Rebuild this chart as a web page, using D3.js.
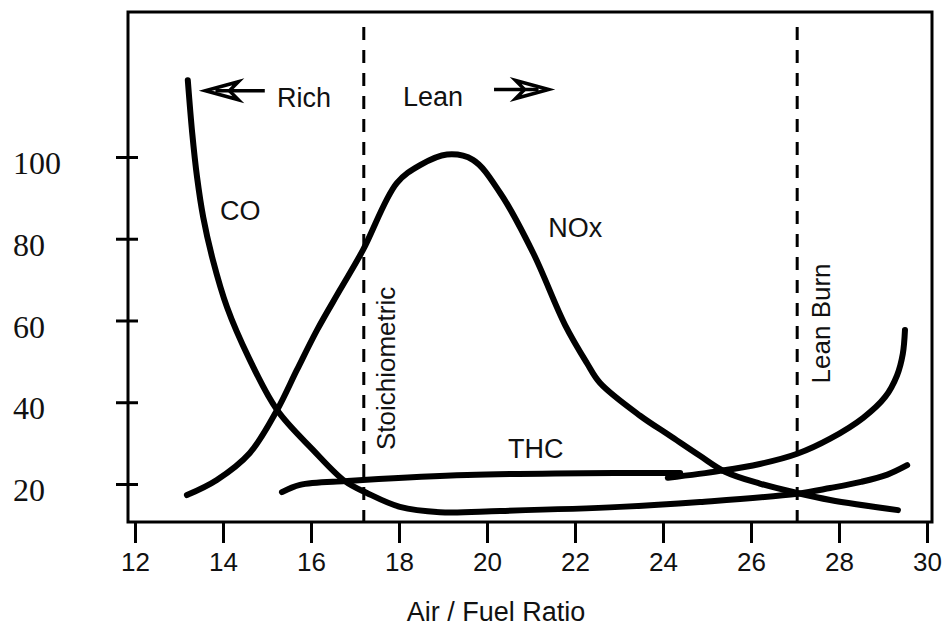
<!DOCTYPE html>
<html>
<head>
<meta charset="utf-8">
<script src="https://cdn.jsdelivr.net/npm/d3@7"></script>
<style>
  html, body { margin: 0; padding: 0; background: #fff; }
  svg { display: block; }
</style>
</head>
<body>
<svg id="chart" width="945" height="629"></svg>
<script>
// ---- data ----
const xTicks = [12, 14, 16, 18, 20, 22, 24, 26, 28, 30];
const yTicks = [20, 40, 60, 80, 100];

const co = [[13.20,118.8],[13.30,105.9],[13.41,95.1],[13.55,85.3],[13.77,74.8],[14.09,63.3],
  [14.59,50.8],[15.23,38.1],[16.05,28.3],[16.77,20.7],[17.27,17.8],[18.02,14.4],
  [18.93,13.1],[20.30,13.4],[23.02,14.4],[24.84,15.6],[27.05,17.6],[27.80,19.0],[28.50,20.5],[29.10,22.3],[29.55,24.6]];

const nox = [[13.18,17.3],[13.86,21.0],[14.61,27.6],[15.23,38.1],[15.68,47.9],[16.14,57.7],
  [16.66,67.5],[17.18,77.2],[17.95,93.6],[18.48,98.0],[19.09,100.6],[19.68,99.3],[20.30,91.2],
  [21.05,76.5],[21.77,59.0],[22.27,49.6],[22.57,44.7],[23.48,36.7],[24.16,31.8],[24.84,26.9],
  [25.41,23.0],[26.20,20.1],[27.05,17.8],[27.80,16.1],[29.34,13.6]];

const thcA = [[15.34,18.0],[15.75,19.8],[16.77,20.7],[17.18,21.0],[19.55,22.2],[23.02,22.7],[24.39,22.7]];
const thcB = [[24.11,21.5],[25.30,23.2],[26.20,24.9],[27.05,27.4],[27.80,31.1],[28.55,36.2],
  [29.05,41.3],[29.32,46.6],[29.45,51.8],[29.50,57.7]];

const markers = [17.2, 27.05];
const markerLabels = ["Stoichiometric", "Lean Burn"];
const seriesLabels = ["CO", "NOx", "THC"];

// ---- layout ----
const svg = d3.select("#chart");
const L = 128, T = 12, R = 932, B = 522;
const x = d3.scaleLinear().domain([11.841, 30.114]).range([L, R]);
const y = d3.scaleLinear().domain([10.70, 135.47]).range([B, T]);
const sans = "'Liberation Sans', Arial, sans-serif";
const serif = "'Liberation Serif', 'Times New Roman', serif";

// frame
svg.append("rect").attr("x", L).attr("y", T).attr("width", R - L).attr("height", B - T)
  .attr("fill", "none").attr("stroke", "#000").attr("stroke-width", 3);

// x axis
const gx = svg.append("g").attr("transform", `translate(0,${B})`)
  .call(d3.axisBottom(x).tickValues(xTicks).tickSize(21).tickPadding(10).tickFormat(d3.format("d")));
gx.select(".domain").remove();
gx.selectAll(".tick line").attr("stroke", "#000").attr("stroke-width", 3);
gx.selectAll(".tick text").attr("font-family", sans).attr("font-size", 26).attr("fill", "#111");

// y axis
const gy = svg.append("g").attr("transform", `translate(${L},0)`)
  .call(d3.axisLeft(y).tickValues(yTicks).tickSize(12).tickFormat(d3.format("d")));
gy.select(".domain").remove();
gy.selectAll(".tick line").attr("x1", 10).attr("stroke", "#000").attr("stroke-width", 3);
gy.selectAll(".tick text").attr("x", -(L - 13)).attr("text-anchor", "start").attr("dy", "0.52em")
  .attr("font-family", serif).attr("font-size", 32).attr("fill", "#111");

// x title
svg.append("text").attr("x", 496).attr("y", 621).attr("text-anchor", "middle")
  .attr("font-family", sans).attr("font-size", 27).attr("fill", "#111").text("Air / Fuel Ratio");

// dashed markers
markers.forEach((m, i) => {
  svg.append("line").attr("x1", x(m)).attr("x2", x(m)).attr("y1", 27).attr("y2", B)
    .attr("stroke", "#000").attr("stroke-width", 3).attr("stroke-dasharray", "13,10");
});
const mlPos = [[17.91, 28.3], [27.80, 44.6]];
markerLabels.forEach((t, i) => {
  svg.append("text").attr("transform", `translate(${x(mlPos[i][0])},${y(mlPos[i][1])}) rotate(-90)`)
    .attr("font-family", sans).attr("font-size", 26).attr("fill", "#111").text(t);
});

// curves
const line = d3.line().x(d => x(d[0])).y(d => y(d[1])).curve(d3.curveCatmullRom.alpha(0.5));
[co, nox, thcA, thcB].forEach(s => {
  svg.append("path").attr("d", line(s)).attr("fill", "none").attr("stroke", "#000")
    .attr("stroke-width", 6).attr("stroke-linecap", "round").attr("stroke-linejoin", "round");
});

// series labels
const slPos = [[13.93, 84.6], [21.39, 80.4], [20.48, 26.4]];
seriesLabels.forEach((t, i) => {
  svg.append("text").attr("x", x(slPos[i][0])).attr("y", y(slPos[i][1]))
    .attr("font-family", sans).attr("font-size", 27).attr("fill", "#111").text(t);
});

// Rich / Lean
svg.append("text").attr("x", x(15.23)).attr("y", y(112.2)).attr("font-family", sans)
  .attr("font-size", 27).attr("fill", "#111").text("Rich");
svg.append("text").attr("x", x(18.09)).attr("y", y(112.5)).attr("font-family", sans)
  .attr("font-size", 27).attr("fill", "#111").text("Lean");

// arrows
function arrow(tipX, tipY, tailX, dir) {
  const g = svg.append("g").attr("fill", "none").attr("stroke", "#000").attr("stroke-width", 3.5)
    .attr("stroke-linejoin", "miter");
  g.append("line").attr("x1", tailX).attr("x2", tipX - dir * 10).attr("y1", tipY).attr("y2", tipY);
  g.append("path").attr("d",
    `M${tipX},${tipY} L${tipX - dir * 33},${tipY - 9} L${tipX - dir * 24},${tipY} L${tipX - dir * 33},${tipY + 9} Z`);
}
arrow(x(13.60), y(116.2), x(14.95), -1);
arrow(x(21.40), y(116.5), x(20.16), 1);
</script>
</body>
</html>
